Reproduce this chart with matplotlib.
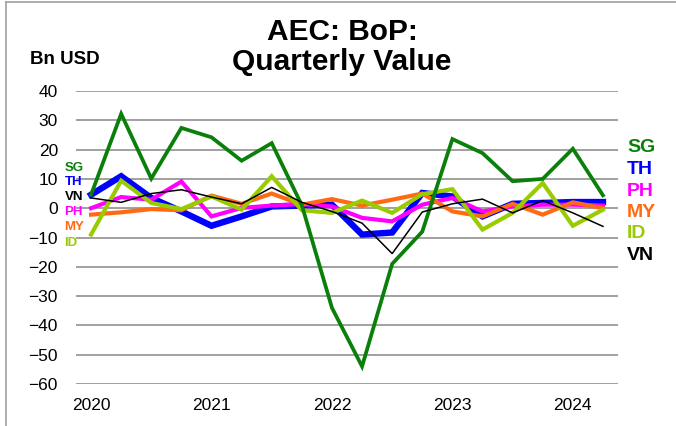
import matplotlib
matplotlib.use('Agg')
import matplotlib.pyplot as plt
from matplotlib.lines import Line2D
import numpy as np

plt.rcParams['font.family'] = ['Liberation Sans', 'DejaVu Sans']

# quarterly values, 2020Q1 .. 2024Q2 (Bn USD)
quarters = ['2020Q1', '2020Q2', '2020Q3', '2020Q4', '2021Q1', '2021Q2', '2021Q3', '2021Q4',
            '2022Q1', '2022Q2', '2022Q3', '2022Q4', '2023Q1', '2023Q2', '2023Q3', '2023Q4',
            '2024Q1', '2024Q2']
sg = [4.6, 32.2, 10.1, 27.4, 24.2, 16.2, 22.2, 1.0, -34.0, -54.0, -19.0, -8.0,
      23.6, 18.8, 9.2, 10.0, 20.3, 4.4]
th = [4.6, 10.9, 3.5, -1.1, -6.0, -2.8, 0.6, 0.9, 1.2, -9.0, -8.3, 5.2,
      4.0, -2.8, 1.5, 1.8, 2.1, 2.1]
ph = [0.0, 3.8, 2.9, 9.1, -2.8, 0.1, 0.9, 1.4, 0.6, -3.3, -4.5, 1.2,
      3.5, -1.1, 0.6, 1.2, 1.2, 0.9]
my = [-2.2, -1.4, -0.3, -0.7, 4.3, 1.5, 5.0, 1.2, 3.1, 0.9, 2.9, 5.0,
      -1.1, -2.8, 1.5, -2.2, 2.0, 0.0]
id_ = [-9.0, 9.4, 1.8, -0.3, 4.0, -0.5, 10.9, -0.7, -1.6, 2.6, -1.6, 4.8,
       6.5, -7.3, -1.6, 8.6, -6.0, -0.5]
vn = [3.5, 2.0, 5.0, 6.3, 3.8, 1.5, 7.1, 2.0, -1.1, -5.1, -15.5, -1.3,
      1.5, 3.1, -1.6, 2.6, -1.6, -6.2]

year_labels = ['2020', '2021', '2022', '2023', '2024']

W, H = 676, 426
fig = plt.figure(figsize=(W / 100, H / 100), dpi=100)
ax = fig.add_axes([76 / W, 1 - 384 / H, 542 / W, 293 / H])

x = np.arange(len(quarters))
series = [
    ('TH', th, '#0000FF', 4.6),
    ('PH', ph, '#FF00FF', 3.0),
    ('MY', my, '#FF6A13', 3.0),
    ('ID', id_, '#99CC00', 3.0),
    ('SG', sg, '#0A7F0A', 2.7),
    ('VN', vn, '#000000', 1.1),
]
for name, vals, col, lw in series:
    ax.plot(x, vals, color=col, lw=lw, solid_joinstyle='miter', zorder=3)

ax.set_xlim(-0.5, len(quarters) - 0.5)
ax.set_ylim(-60, 40)
ax.set_yticks(np.arange(-60, 41, 10))
ax.set_xticks(x[::4])
ax.set_xticklabels(year_labels)
ax.yaxis.grid(True, color='#999999', lw=1.3)
ax.set_axisbelow(True)
for s in ax.spines.values():
    s.set_visible(False)
ax.tick_params(axis='both', length=0, labelsize=12.5)
ax.tick_params(axis='y', pad=13)
ax.tick_params(axis='x', pad=10)

# series labels, left and right
left_y = {'SG': 13.8, 'TH': 8.9, 'VN': 3.9, 'PH': -1.3, 'MY': -6.5, 'ID': -11.8}
right_y = {'SG': 20.6, 'TH': 13.3, 'PH': 5.8, 'MY': -1.5, 'ID': -8.7, 'VN': -16.2}
colors = {name: col for name, vals, col, lw in series}
for name, yv in left_y.items():
    ax.text(-0.88, yv, name, color=colors[name], fontsize=9.5, fontweight='bold',
            ha='left', va='center', clip_on=False)
for name, yv in right_y.items():
    ax.text(17.8, yv, name, color=colors[name], fontsize=14, fontweight='bold',
            ha='left', va='center', clip_on=False)

fig.text(342 / W, 1 - 47 / H, 'AEC: BoP:\nQuarterly Value', ha='center', va='center',
         fontsize=21.5, fontweight='bold', linespacing=1.12)
fig.text(30 / W, 1 - 60 / H, 'Bn USD', ha='left', va='center', fontsize=13.5,
         fontweight='bold')

# chart frame (top and left edges visible)
fig.add_artist(Line2D([6 / W, 6 / W], [0, 1 - 1.5 / H], color='#A0A0A0', lw=1.2,
                      transform=fig.transFigure))
fig.add_artist(Line2D([6 / W, 1], [1 - 1.5 / H, 1 - 1.5 / H], color='#A0A0A0', lw=1.2,
                      transform=fig.transFigure))

fig.savefig('out.png', dpi=100)
